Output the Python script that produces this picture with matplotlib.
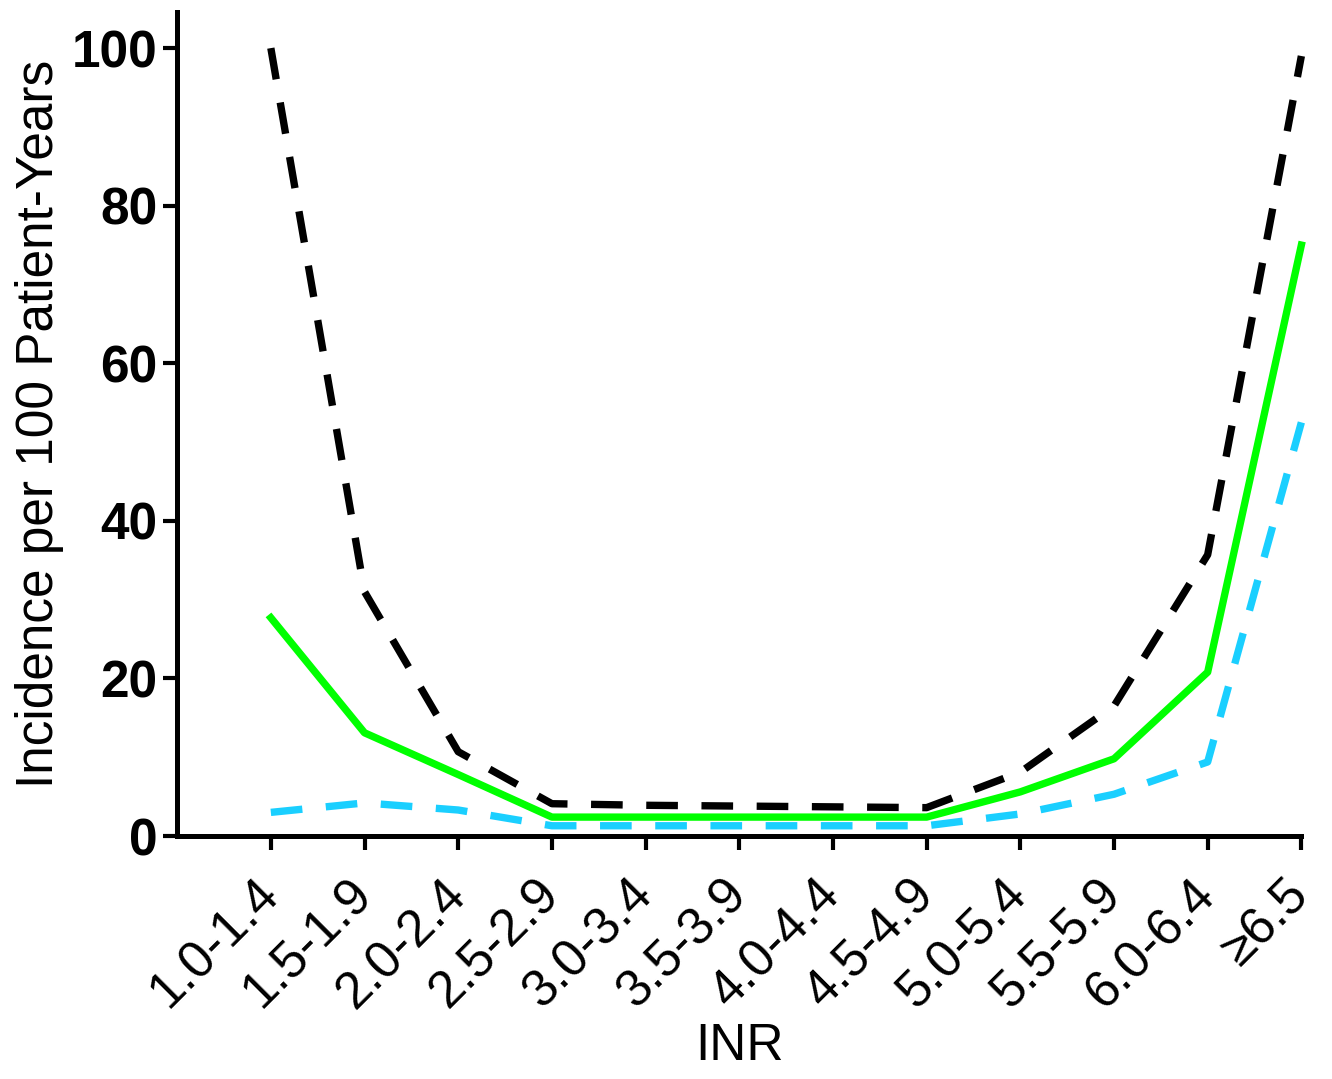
import matplotlib.pyplot as plt
import numpy as np

plt.rcParams['font.family'] = ['Liberation Sans', 'DejaVu Sans']

inr = ['1.0-1.4', '1.5-1.9', '2.0-2.4', '2.5-2.9', '3.0-3.4', '3.5-3.9',
       '4.0-4.4', '4.5-4.9', '5.0-5.4', '5.5-5.9', '6.0-6.4', '≥6.5']
black_vals = [100, 31, 10.7, 4.1, 3.9, 3.8, 3.7, 3.6, 8.1, 16.5, 35.7, 99]
green_vals = [27.7, 13.1, 7.8, 2.4, 2.4, 2.4, 2.4, 2.4, 5.6, 9.8, 20.8, 75]
cyan_vals = [3.0, 4.2, 3.3, 1.3, 1.3, 1.3, 1.3, 1.3, 2.8, 5.3, 9.4, 52.5]

x = np.arange(1, len(inr) + 1)

fig = plt.figure(figsize=(13.32, 10.79), dpi=100)
ax = fig.add_axes([0.133, 0.2252, 0.844, 0.7638])

ax.plot(x, cyan_vals, color='#1ACFFF', lw=5.3, dashes=(4.3, 3.2), clip_on=False)
ax.plot(x, green_vals, color='#00FF00', lw=5.3, clip_on=False)
ax.plot(x, black_vals, color='black', lw=5.3, dashes=(4.3, 3.2), clip_on=False)

ax.set_xlim(0, 12)
ax.set_ylim(0, 104.6)
ax.set_yticks([0, 20, 40, 60, 80, 100])
ax.set_xticks(x)
ax.set_xticklabels(inr, rotation=45, ha='right', va='center',
                   rotation_mode='anchor', fontsize=37)
for lab in ax.get_yticklabels():
    lab.set_fontweight('bold')
    lab.set_fontsize(37)

for side in ['top', 'right']:
    ax.spines[side].set_visible(False)
for side in ['left', 'bottom']:
    ax.spines[side].set_linewidth(3.6)
ax.tick_params(axis='both', width=3, length=10, direction='out')
ax.tick_params(axis='y', pad=4)
ax.tick_params(axis='x', pad=27)

ax.set_xlabel('INR', fontsize=37, labelpad=3)
ax.set_ylabel('Incidence per 100 Patient-Years', fontsize=37, labelpad=6)

fig.savefig('out.png', dpi=100)
